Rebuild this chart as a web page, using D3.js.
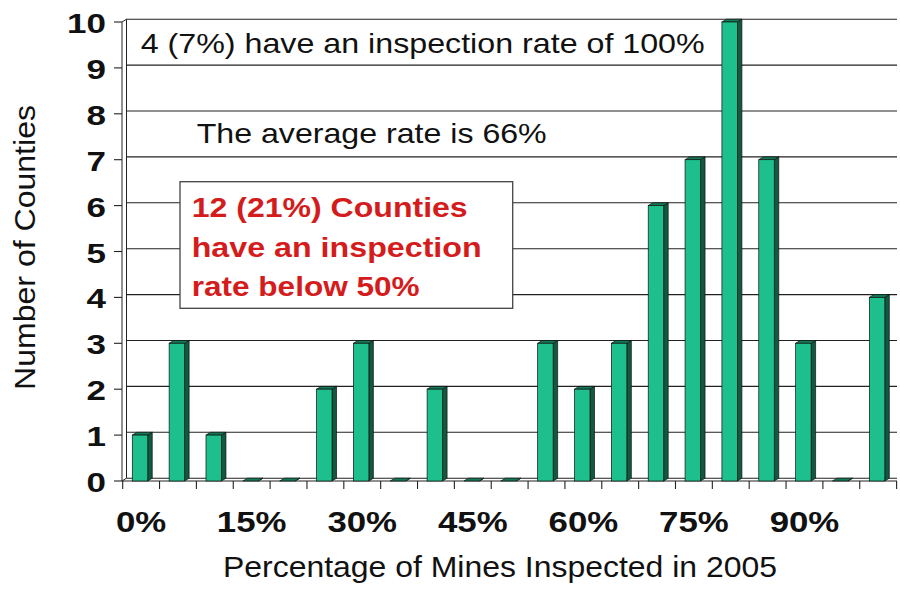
<!DOCTYPE html>
<html>
<head>
<meta charset="utf-8">
<script src="https://cdn.jsdelivr.net/npm/d3@7/dist/d3.min.js"></script>
<style>
  html, body { margin: 0; padding: 0; background: #fff; }
  svg { display: block; font-family: "Liberation Sans", Arial, sans-serif; }
</style>
</head>
<body>
<svg id="chart" width="900" height="591"></svg>
<script>
const categories = ["0%","5%","10%","15%","20%","25%","30%","35%","40%","45%","50%",
                    "55%","60%","65%","70%","75%","80%","85%","90%","95%","100%"];
const counts = [1,3,1,0,0,2,3,0,2,0,0,3,2,3,6,7,10,7,3,0,4];
const yTicks = [0,1,2,3,4,5,6,7,8,9,10];
const xTickLabels = ["0%","15%","30%","45%","60%","75%","90%"];
const yTitle = "Number of Counties";
const xTitle = "Percentage of Mines Inspected in 2005";
const note1 = "4 (7%) have an inspection rate of 100%";
const note2 = "The average rate is 66%";
const boxLines = ["12 (21%) Counties", "have an inspection", "rate below 50%"];

const svg = d3.select("#chart");
const x = d3.scaleBand().domain(categories).range([122.7, 896.6]).paddingInner(0).paddingOuter(0);
const y = d3.scaleLinear().domain([0, 10]).range([481, 22]);
const bw = x.bandwidth();
const dx = 4.5, dy = 2.8;

// left wall
svg.append("path")
  .attr("d", `M122,${y(0)} L122,${y(10)} L${122+dx},${y(10)-dy} L${122+dx},${y(0)-dy} Z`)
  .attr("fill", "#fff").attr("stroke", "#222").attr("stroke-width", 1);

// gridlines (back wall)
svg.append("g").selectAll("line").data(yTicks).join("line")
  .attr("x1", 122 + dx).attr("x2", 897)
  .attr("y1", d => y(d) - dy).attr("y2", d => y(d) - dy)
  .attr("stroke", "#222").attr("stroke-width", 1.1);

// floor front edge
svg.append("line").attr("x1", 122).attr("x2", 897).attr("y1", y(0)).attr("y2", y(0))
  .attr("stroke", "#222").attr("stroke-width", 1.1);

// y ticks
svg.append("g").selectAll("line").data(yTicks).join("line")
  .attr("x1", 114).attr("x2", 122).attr("y1", d => y(d)).attr("y2", d => y(d))
  .attr("stroke", "#222").attr("stroke-width", 1.1);

// x ticks at band boundaries
const bounds = categories.map(c => x(c)).concat([x(categories[categories.length-1]) + bw]);
svg.append("g").selectAll("line").data(bounds).join("line")
  .attr("x1", d => d).attr("x2", d => d).attr("y1", y(0)).attr("y2", y(0) + 8)
  .attr("stroke", "#222").attr("stroke-width", 1.1);

// bars
const frontCol = "#1dbf8c", sideCol = "#0f5a40", topCol = "#137a58";
const bars = svg.append("g").selectAll("g").data(categories.map((c, i) => ({c, v: counts[i]}))).join("g");
const bx = d => x(d.c) + bw * 0.26, fw = bw * 0.42;
bars.append("path")
  .attr("d", d => { const x0 = bx(d) + fw, yt = y(d.v), yb = y(0);
    return `M${x0},${yt} L${x0+dx},${yt-dy} L${x0+dx},${yb-dy} L${x0},${yb} Z`; })
  .attr("fill", sideCol).attr("stroke", "#111").attr("stroke-width", 0.7);
bars.append("path")
  .attr("d", d => { const x0 = bx(d), yt = y(d.v);
    return `M${x0},${yt} L${x0+dx},${yt-dy} L${x0+fw+dx},${yt-dy} L${x0+fw},${yt} Z`; })
  .attr("fill", topCol).attr("stroke", "#111").attr("stroke-width", 0.7);
bars.filter(d => d.v > 0).append("rect")
  .attr("x", d => bx(d)).attr("y", d => y(d.v)).attr("width", fw).attr("height", d => y(0) - y(d.v))
  .attr("fill", frontCol).attr("stroke", "#111").attr("stroke-width", 0.7);

// y tick labels
svg.append("g").selectAll("text").data(yTicks).join("text")
  .attr("transform", d => `translate(106,${y(d) + 11}) scale(1.25,1)`)
  .attr("text-anchor", "end").attr("font-size", 28).attr("font-weight", "bold").attr("fill", "#111")
  .text(d => d);

// x tick labels
svg.append("g").selectAll("text").data(xTickLabels).join("text")
  .attr("transform", d => `translate(${x(d) + bw / 2},531.5) scale(1.2,1)`)
  .attr("text-anchor", "middle").attr("font-size", 29).attr("font-weight", "bold").attr("fill", "#111")
  .text(d => d);

// axis titles
svg.append("text").attr("transform", "translate(35,247.5) rotate(-90)")
  .attr("text-anchor", "middle").attr("font-size", 30).attr("fill", "#111")
  .attr("textLength", 285).attr("lengthAdjust", "spacingAndGlyphs").text(yTitle);
svg.append("text").attr("x", 500).attr("y", 577.3)
  .attr("text-anchor", "middle").attr("font-size", 30).attr("fill", "#111")
  .attr("textLength", 554).attr("lengthAdjust", "spacingAndGlyphs").text(xTitle);

// annotations
svg.append("text").attr("x", 140.7).attr("y", 53.3).attr("font-size", 28).attr("fill", "#111")
  .attr("textLength", 564).attr("lengthAdjust", "spacingAndGlyphs").text(note1);
svg.append("text").attr("x", 196.7).attr("y", 143.3).attr("font-size", 28).attr("fill", "#111")
  .attr("textLength", 350).attr("lengthAdjust", "spacingAndGlyphs").text(note2);

svg.append("rect").attr("x", 180).attr("y", 181.7).attr("width", 332.7).attr("height", 126.6)
  .attr("fill", "#fff").attr("stroke", "#444").attr("stroke-width", 1.3);
const lineY = [216.7, 257, 296], lineLen = [276, 290, 228];
svg.append("g").selectAll("text").data(boxLines).join("text")
  .attr("x", 191.7).attr("y", (d, i) => lineY[i])
  .attr("font-size", 28).attr("font-weight", "bold").attr("fill", "#d41c1c")
  .attr("textLength", (d, i) => lineLen[i]).attr("lengthAdjust", "spacingAndGlyphs")
  .text(d => d);
</script>
</body>
</html>
